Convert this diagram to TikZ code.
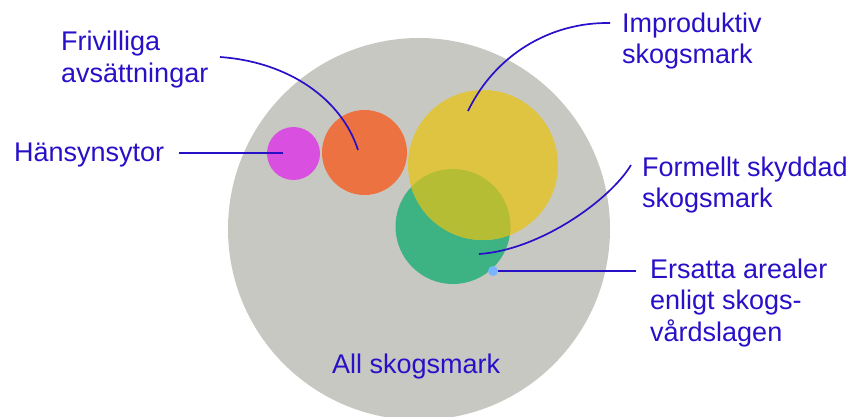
\documentclass[tikz,border=0pt]{standalone}
\usepackage{fontspec}
\setmainfont{Liberation Sans}
\usepackage{tikz}
\usetikzlibrary{positioning,calc}
\definecolor{areagray}{RGB}{200,200,194}
\definecolor{hpink}{RGB}{217,80,224}
\definecolor{forange}{RGB}{236,115,65}
\definecolor{iyellow}{RGB}{223,196,65}
\definecolor{sgreen}{RGB}{61,179,131}
\definecolor{olivemix}{RGB}{180,189,51}
\definecolor{dotblue}{RGB}{122,180,255}
\definecolor{inkblue}{RGB}{40,16,200}

\begin{document}
\begin{tikzpicture}[
      x=1pt, y=-1pt,
      bubble/.style={circle, draw=none, inner sep=0pt},
      lbl/.style={font=\fontsize{27}{31.5}\selectfont, text=inkblue,
                  inner sep=0pt, align=left, anchor=base west},
      leader/.style={draw=inkblue, line width=1.7pt},
    ]
    \useasboundingbox (0,0) rectangle (854,416);

    % circles
    \node[bubble, fill=areagray, minimum size=382pt] (all)    at (419,229)   {};
    \node[bubble, fill=hpink,    minimum size=53pt]  (pink)   at (293.5,153.5) {};
    \node[bubble, fill=forange,  minimum size=85pt]  (orange) at (364.5,152.5) {};
    \node[bubble, fill=sgreen,   minimum size=115pt] (green)  at (453,226.5) {};
    \node[bubble, fill=iyellow,  minimum size=150pt] (yellow) at (483,165)   {};
    \begin{scope}
      \clip (453,226.5) circle (57.5pt);
      \fill[olivemix] (483,165) circle (75pt);
    \end{scope}
    \node[bubble, fill=dotblue,  minimum size=10pt]  (dot)    at (493,271)   {};

    % labels (anchored at the baseline of the last line)
    \node[lbl] (hansyn) at (14,161)   {Hänsynsytor};
    \node[lbl] (friv)   at (61,82)    {Frivilliga\\avsättningar};
    \node[lbl] (improd) at (622,63.5) {Improduktiv\\skogsmark};
    \node[lbl] (formel) at (642,207.5){Formellt skyddad\\skogsmark};
    \node[lbl] (ersatt) at (650,341)  {Ersatta arealer\\enligt skogs-\\vårdslagen};
    \node[lbl] (allsk)  at (332,373)  {All skogsmark};

    % leader ends
    \coordinate (pinkP)   at (283,153);
    \coordinate (orangeP) at (358,150);
    \coordinate (yellowP) at (468,111);
    \coordinate (greenP)  at (479,254);

    \draw[leader] (179,153) coordinate (hansynS) -- (pinkP);
    \draw[leader] (220,57) coordinate (frivS)
          .. controls (290,62) and (342,100) .. (orangeP);
    \draw[leader] (610,23) coordinate (improdS)
          .. controls (550,22) and (495,55) .. (yellowP);
    \draw[leader] (631,165) coordinate (formelS)
          .. controls (610,200) and (540,250) .. (greenP);
    \draw[leader] (dot.east) -- (636,271) coordinate (ersattS);
  \end{tikzpicture}
\end{document}
